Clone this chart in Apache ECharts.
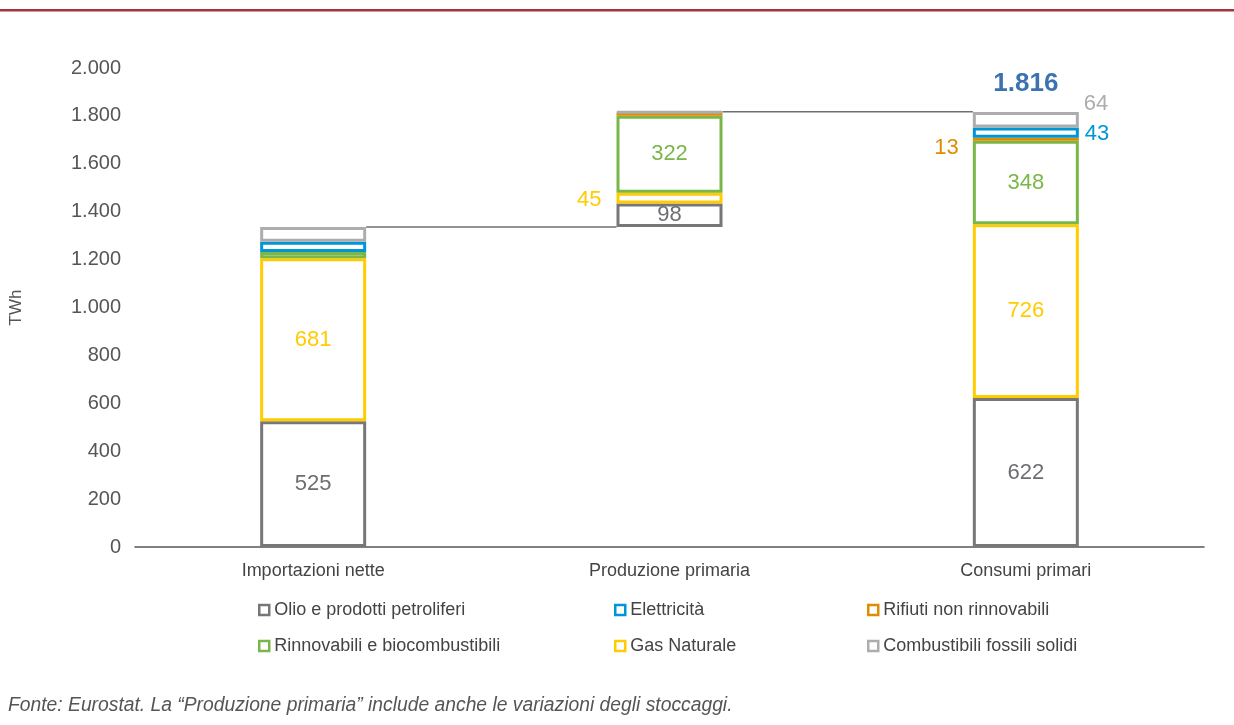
<!DOCTYPE html>
<html>
<head>
<meta charset="utf-8">
<script src="https://cdn.jsdelivr.net/npm/echarts@6/dist/echarts.min.js"></script>
<style>
html,body{margin:0;padding:0;background:#fff;}
#chart{width:1234px;height:725px;}
</style>
</head>
<body>
<div id="chart"></div>
<script>
// ---- data ----
var categories = ['Importazioni nette', 'Produzione primaria', 'Consumi primari'];
var olio = [525, 98, 622];
var gas = [681, 45, 726];
var rinnovabili = [26, 322, 348];
var rifiuti = [0, 13, 13];
var elettricita = [43, 0, 43];
var combustibili = [61, 3, 64];
var totalConsumi = 1816;
var yTicks = { min: 0, max: 2000, interval: 200 };
var seriesNames = ['Olio e prodotti petroliferi', 'Gas Naturale', 'Rinnovabili e biocombustibili',
  'Rifiuti non rinnovabili', 'Elettricità', 'Combustibili fossili solidi'];

// ---- style ----
var FONT = 'Liberation Sans, Arial, Helvetica, sans-serif';
var colors = ['#77777a', '#ffcc00', '#7ab648', '#e08c00', '#0096d6', '#adadb0'];
var labelColors = ['#6d6e71', '#ffcc00', '#7ab648', '#e08c00', '#0096d6', '#adadb0'];
var BAR_W = 106;

function fmt(v) {
  return String(Math.round(v)).replace(/\B(?=(\d{3})+(?!\d))/g, '.');
}

var allSeriesData = [olio, gas, rinnovabili, rifiuti, elettricita, combustibili];
var importsTotal = 0;
allSeriesData.forEach(function (arr) { importsTotal += arr[0]; });
var prodTotal = importsTotal;
allSeriesData.forEach(function (arr) { prodTotal += arr[1]; });
var base = ['-', importsTotal, '-'];

var labelSpec = [
  [{ position: 'inside' }, { position: 'inside' }, { position: 'inside' }],
  [{ position: 'inside' }, { position: 'left', distance: 15, offset: [0, 2] }, { position: 'inside' }],
  [null, { position: 'inside' }, { position: 'inside' }],
  [null, null, { position: 'left', distance: 14, offset: [0, 9] }],
  [null, null, { position: 'right', distance: 6, offset: [0, 1] }],
  [null, null, { position: 'right', distance: 5, offset: [0, -16] }]
];

var series = [{
  name: 'base', type: 'bar', stack: 'tot', data: base, barWidth: BAR_W,
  itemStyle: { color: 'transparent', borderWidth: 0 }, silent: true, label: { show: false }
}];

allSeriesData.forEach(function (arr, s) {
  series.push({
    name: seriesNames[s],
    type: 'bar',
    stack: 'tot',
    barWidth: BAR_W,
    itemStyle: { color: '#ffffff', borderColor: colors[s], borderWidth: 3 },
    data: arr.map(function (v, c) {
      if (!v) return '-';
      var spec = labelSpec[s][c];
      var item = { value: v };
      if (spec) {
        item.label = {
          show: true, position: spec.position, distance: spec.distance || 5,
          offset: spec.offset || [0, 0],
          color: labelColors[s], fontSize: 22, fontFamily: FONT,
          formatter: function (p) { return fmt(p.value); }
        };
      } else {
        item.label = { show: false };
      }
      return item;
    })
  });
});

series.push({
  type: 'custom',
  name: 'connector',
  silent: true,
  z: 1,
  data: [[0, importsTotal], [1, prodTotal]],
  renderItem: function (params, api) {
    var i = api.value(0), v = api.value(1);
    var p1 = api.coord([i, v]);
    var p2 = api.coord([i + 1, v]);
    var hw = BAR_W / 2;
    return {
      type: 'line',
      shape: { x1: p1[0] + hw, y1: p1[1], x2: p2[0] - hw, y2: p2[1] },
      style: { stroke: '#6d6e71', lineWidth: 1.5 }
    };
  }
});

series.push({
  type: 'scatter',
  name: 'totale',
  symbolSize: 0,
  silent: true,
  data: [[2, totalConsumi]],
  label: {
    show: true, position: 'top', distance: 15,
    color: '#0b4f9c', fontSize: 26, fontWeight: 'bold', fontFamily: FONT,
    formatter: function (p) { return fmt(p.value[1]); }
  }
});

var legendPos = [
  { left: 253, top: 596 }, // Olio
  { left: 609, top: 632 }, // Gas
  { left: 253, top: 632 }, // Rinnovabili
  { left: 862, top: 596 }, // Rifiuti
  { left: 609, top: 596 }, // Elettricità
  { left: 862, top: 632 }  // Combustibili
];
var legends = seriesNames.map(function (n, i) {
  return {
    data: [n], left: legendPos[i].left, top: legendPos[i].top,
    icon: 'rect', itemWidth: 10, itemHeight: 10, selectedMode: false,
    itemStyle: { color: '#fff', borderColor: colors[i], borderWidth: 2.5 },
    textStyle: { color: '#444', fontSize: 18, fontFamily: FONT }
  };
});

var chart = echarts.init(document.getElementById('chart'), null, { renderer: 'canvas' });
chart.setOption({
  animation: false,
  backgroundColor: '#fff',
  textStyle: { fontFamily: FONT },
  grid: { left: 129, right: 30, top: 68, bottom: 178, containLabel: false },
  legend: legends,
  xAxis: {
    type: 'category', data: categories,
    axisLine: { lineStyle: { color: '#555', width: 1.5 } },
    axisTick: { show: false },
    axisLabel: { color: '#444', fontSize: 18, margin: 15, fontFamily: FONT }
  },
  yAxis: {
    type: 'value', min: yTicks.min, max: yTicks.max, interval: yTicks.interval,
    name: 'TWh', nameLocation: 'middle', nameGap: 110, nameRotate: 90,
    nameTextStyle: { color: '#555', fontSize: 17, fontFamily: FONT },
    axisLine: { show: false }, axisTick: { show: false }, splitLine: { show: false },
    axisLabel: { color: '#555', fontSize: 20, margin: 14, fontFamily: FONT,
      formatter: function (v) { return fmt(v); } }
  },
  graphic: [
    { type: 'rect', left: 0, top: 9, shape: { width: 1234, height: 2.5 }, style: { fill: '#a5343f' } },
    { type: 'text', left: 8, top: 696,
      style: { text: 'Fonte: Eurostat. La “Produzione primaria” include anche le variazioni degli stoccaggi.',
        fill: '#555', font: 'italic 19.3px ' + FONT } }
  ],
  series: series
});
</script>
</body>
</html>
